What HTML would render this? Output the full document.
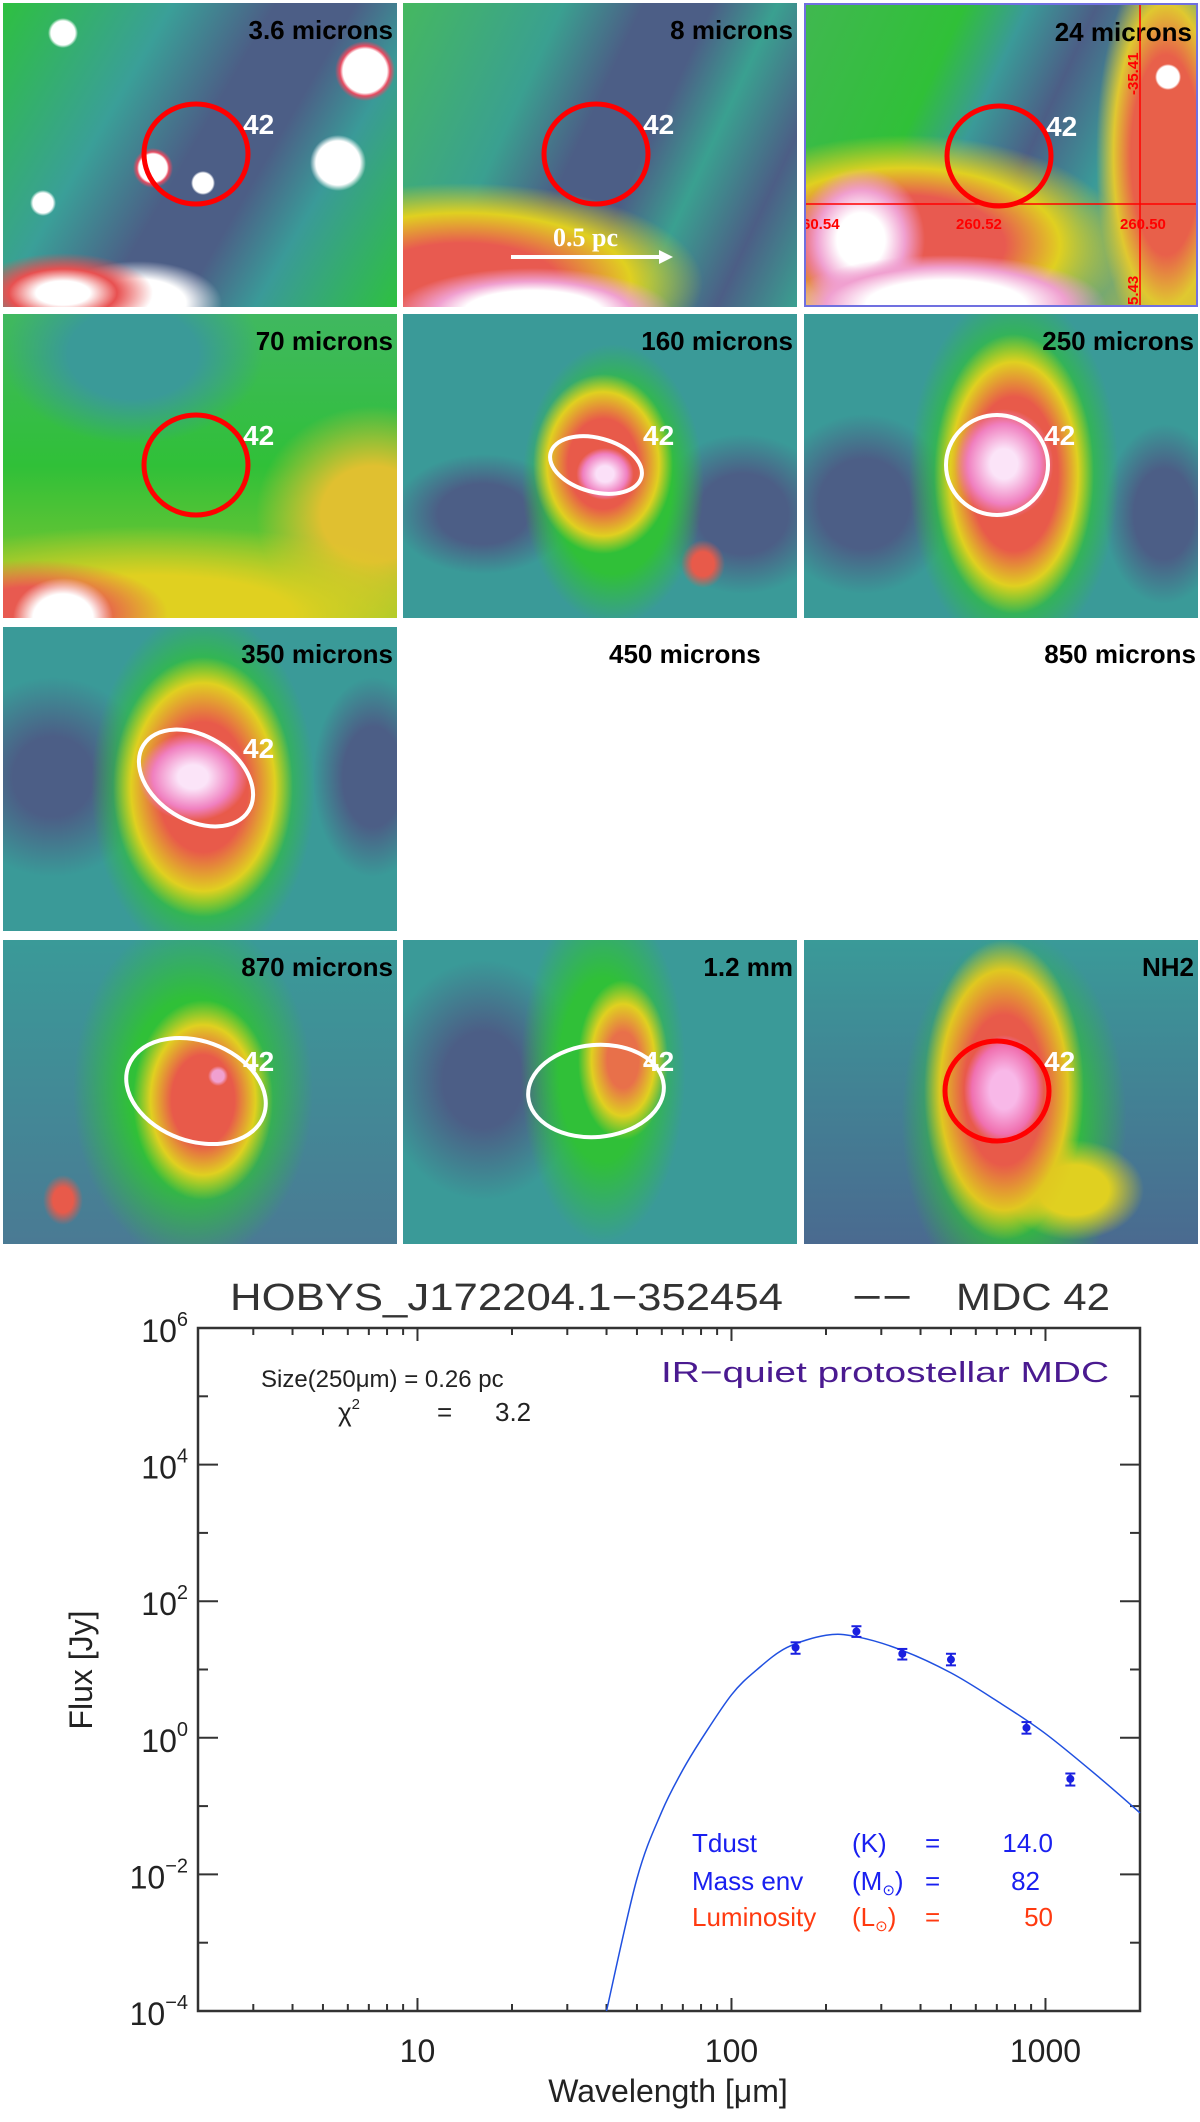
<!DOCTYPE html>
<html><head><meta charset="utf-8"><style>
html,body{margin:0;padding:0;background:#fff;}
body{width:1200px;height:2122px;position:relative;overflow:hidden;font-family:"Liberation Sans",sans-serif;}
.p{position:absolute;width:394px;height:304px;overflow:hidden;}
.lab{position:absolute;right:4px;top:12px;font-weight:bold;font-size:26px;color:#000;white-space:nowrap;}
.num{position:absolute;left:240px;top:106px;font-weight:bold;font-size:28px;color:#fff;}
.ell{position:absolute;left:0;top:0;}
</style></head><body>
<div class="p" style="left:3px;top:3px;background:
radial-gradient(circle at 200px 180px,#fff 0 10px,transparent 12px),
radial-gradient(circle at 150px 165px,#fff 0 14px,#e84a60 16px,transparent 20px),
radial-gradient(circle at 362px 68px,#fff 0 22px,#e84a60 25px,transparent 30px),
radial-gradient(circle at 335px 160px,#fff 0 22px,transparent 28px),
radial-gradient(circle at 60px 30px,#fff 0 12px,transparent 15px),
radial-gradient(circle at 40px 200px,#fff 0 10px,transparent 13px),
radial-gradient(ellipse 90px 40px at 60px 290px,#fff 0 30%,#e85050 60%,transparent 100%),
radial-gradient(ellipse 120px 60px at 135px 300px,#fff 0 40%,transparent 70%),
linear-gradient(120deg,#2ec040 0%,#3a9f98 30%,#4c5e86 48%,#4c5e86 62%,#3a9a98 75%,#2ec040 100%);">
<div class="lab">3.6 microns</div>
<div class="num">42</div>
<svg class="ell" width="394" height="304"><ellipse cx="193" cy="151" rx="52" ry="50" fill="none" stroke="#f00" stroke-width="5"/></svg></div>

<div class="p" style="left:403px;top:3px;background:
radial-gradient(ellipse 140px 45px at 130px 310px,#fff 0 50%,#f0a0d0 70%,transparent 100%),
radial-gradient(ellipse 240px 100px at 60px 280px,#e85a50 0 40%,#e0d020 70%,transparent 100%),
linear-gradient(115deg,#45b860 0%,#3aa090 30%,#4c5e86 45%,#4c5e86 58%,#3aa090 70%,#4c5e86 85%,#3aa090 100%);">
<div class="lab">8 microns</div>
<div class="num">42</div>
<svg class="ell" width="394" height="304"><ellipse cx="193" cy="151" rx="52" ry="50" fill="none" stroke="#f00" stroke-width="5"/>
<line x1="108" y1="254" x2="265" y2="254" stroke="#fff" stroke-width="4"/><polygon points="270,254 256,247 256,261" fill="#fff"/>
<text x="150" y="243" font-family="Liberation Serif" font-weight="bold" font-size="26" fill="#fff">0.5 pc</text></svg></div>

<div class="p" style="left:804px;top:3px;box-sizing:border-box;border:2px solid #7070e0;background:
radial-gradient(circle at 362px 72px,#fff 0 11px,transparent 13px),
radial-gradient(ellipse 160px 50px at 140px 300px,#fff 0 50%,#f0a0d0 75%,transparent 100%),
radial-gradient(ellipse 80px 90px at 55px 235px,#fff 0 30%,#f0a0d0 55%,transparent 80%),
radial-gradient(ellipse 220px 110px at 100px 240px,#e85a50 0 45%,#e0d020 70%,transparent 100%),
radial-gradient(ellipse 70px 200px at 360px 150px,#e8604a 0 50%,#e0c830 75%,transparent 100%),
linear-gradient(115deg,#40b850 0%,#30c038 30%,#3a9a98 42%,#4c5e86 55%,#3a9a98 70%,#d8c030 100%);">
<div class="lab">24 microns</div>
<div class="num">42</div>
<svg class="ell" width="394" height="304"><ellipse cx="193" cy="151" rx="52" ry="50" fill="none" stroke="#f00" stroke-width="5"/>
<line x1="0" y1="199" x2="394" y2="199" stroke="#f00" stroke-width="1.5"/><line x1="334" y1="0" x2="334" y2="304" stroke="#f00" stroke-width="1.5"/>
<g font-size="15" font-weight="bold" fill="#f00" font-family="Liberation Sans"><text x="-4" y="224">60.54</text><text x="150" y="224">260.52</text><text x="314" y="224">260.50</text>
<text transform="translate(332,90) rotate(-90)">-35.41</text><text transform="translate(332,300) rotate(-90)">5.43</text></g></svg></div>

<div class="p" style="left:3px;top:314px;background:
radial-gradient(ellipse 50px 40px at 60px 304px,#fff 0 60%,transparent 100%),
radial-gradient(ellipse 150px 60px at 30px 300px,#e85a50 0 45%,transparent 90%),
radial-gradient(ellipse 400px 110px at 150px 300px,#e0d020 0 35%,transparent 80%),
radial-gradient(ellipse 130px 90px at 130px 40px,#3a9a98 0 50%,transparent 100%),
radial-gradient(ellipse 130px 120px at 370px 200px,#e0c030 0 40%,transparent 90%),
linear-gradient(180deg,#40b860 0%,#30c038 50%,#90c830 100%);">
<div class="lab">70 microns</div>
<div class="num">42</div>
<svg class="ell" width="394" height="304"><ellipse cx="193" cy="151" rx="52" ry="50" fill="none" stroke="#f00" stroke-width="5"/></svg></div>

<div class="p" style="left:403px;top:314px;background:
radial-gradient(ellipse 22px 20px at 202px 160px,#fbe0f8 0 40%,#f080c0 100%,transparent 130%),
radial-gradient(ellipse 70px 90px at 200px 150px,#e85a4a 0 50%,#e0d020 80%,transparent 100%),
radial-gradient(ellipse 22px 24px at 300px 250px,#e85a4a 0 50%,transparent 100%),
radial-gradient(ellipse 130px 200px at 210px 170px,#30c038 0 45%,transparent 70%),
radial-gradient(ellipse 90px 60px at 80px 200px,#4c5e86 0 50%,transparent 100%),
radial-gradient(ellipse 90px 80px at 340px 200px,#4c5e86 0 50%,transparent 100%),
linear-gradient(180deg,#3a9a98,#3a9a98);">
<div class="lab">160 microns</div>
<div class="num">42</div>
<svg class="ell" width="394" height="304"><ellipse cx="193" cy="151" rx="47" ry="27" transform="rotate(15 193 151)" fill="none" stroke="#fff" stroke-width="4"/></svg></div>

<div class="p" style="left:804px;top:314px;background:
radial-gradient(ellipse 45px 50px at 200px 150px,#fbe4f8 0 30%,#f080c0 80%,transparent 110%),
radial-gradient(ellipse 80px 140px at 210px 160px,#e85a4a 0 55%,#e0d020 80%,transparent 100%),
radial-gradient(ellipse 150px 260px at 210px 160px,#30c038 0 45%,transparent 70%),
radial-gradient(ellipse 90px 90px at 60px 190px,#4c5e86 0 50%,transparent 100%),
radial-gradient(ellipse 60px 90px at 360px 200px,#4c5e86 0 50%,transparent 100%),
linear-gradient(180deg,#3a9a98,#3a9a98);">
<div class="lab">250 microns</div>
<div class="num">42</div>
<svg class="ell" width="394" height="304"><ellipse cx="193" cy="151" rx="51" ry="50" fill="none" stroke="#fff" stroke-width="4"/></svg></div>

<div class="p" style="left:3px;top:627px;background:
radial-gradient(ellipse 50px 40px at 190px 150px,#fbe4f8 0 30%,#f080c0 80%,transparent 110%),
radial-gradient(ellipse 90px 130px at 200px 160px,#e85a4a 0 50%,#e0d020 80%,transparent 100%),
radial-gradient(ellipse 160px 250px at 200px 160px,#30c038 0 45%,transparent 70%),
radial-gradient(ellipse 100px 100px at 50px 150px,#4c5e86 0 40%,transparent 100%),
radial-gradient(ellipse 60px 100px at 370px 150px,#4c5e86 0 50%,transparent 100%),
linear-gradient(180deg,#3a9a98,#3a9a98);">
<div class="lab">350 microns</div>
<div class="num">42</div>
<svg class="ell" width="394" height="304"><ellipse cx="193" cy="151" rx="62" ry="42" transform="rotate(32 193 151)" fill="none" stroke="#fff" stroke-width="4"/></svg></div>

<div class="lab" style="right:auto;left:609px;top:639px;">450 microns</div>
<div class="lab" style="right:4px;top:639px;">850 microns</div>

<div class="p" style="left:3px;top:940px;background:
radial-gradient(circle at 215px 136px,#f0a0d0 0 6px,transparent 10px),
radial-gradient(ellipse 70px 100px at 200px 160px,#e85a4a 0 45%,#e0d020 75%,transparent 100%),
radial-gradient(ellipse 20px 25px at 60px 260px,#e85a4a 0 50%,transparent 100%),
radial-gradient(ellipse 160px 230px at 190px 150px,#30c038 0 40%,transparent 75%),
linear-gradient(180deg,#3a9a98,#4a7a94);">
<div class="lab">870 microns</div>
<div class="num">42</div>
<svg class="ell" width="394" height="304"><ellipse cx="193" cy="151" rx="72" ry="50" transform="rotate(20 193 151)" fill="none" stroke="#fff" stroke-width="4"/></svg></div>

<div class="p" style="left:403px;top:940px;background:
radial-gradient(ellipse 45px 80px at 220px 120px,#e8704a 0 35%,#e0d020 70%,transparent 100%),
radial-gradient(ellipse 110px 230px at 200px 130px,#30c038 0 40%,transparent 75%),
radial-gradient(ellipse 100px 120px at 80px 140px,#4c5e86 0 40%,transparent 100%),
linear-gradient(180deg,#3a9a98,#3a9a98);">
<div class="lab">1.2 mm</div>
<div class="num">42</div>
<svg class="ell" width="394" height="304"><ellipse cx="193" cy="151" rx="68" ry="46" transform="rotate(-5 193 151)" fill="none" stroke="#fff" stroke-width="4"/></svg></div>

<div class="p" style="left:804px;top:940px;background:
radial-gradient(ellipse 40px 55px at 200px 150px,#f8b8e8 0 35%,#f070b0 80%,transparent 100%),
radial-gradient(ellipse 80px 150px at 200px 150px,#e85a4a 0 50%,#e0c820 80%,transparent 100%),
radial-gradient(ellipse 70px 50px at 270px 250px,#e0d020 0 50%,transparent 100%),
radial-gradient(ellipse 150px 250px at 210px 180px,#30c038 0 40%,transparent 75%),
linear-gradient(180deg,#3a9a98,#4a6a90);">
<div class="lab">NH2</div>
<div class="num">42</div>
<svg class="ell" width="394" height="304"><ellipse cx="193" cy="151" rx="52" ry="50" fill="none" stroke="#f00" stroke-width="5"/></svg></div>

<svg id="sed" width="1200" height="2122" style="position:absolute;left:0;top:0;pointer-events:none" font-family="Liberation Sans, sans-serif"></svg>
<script>
const pointWavelengths=[160,250,350,500,870,1200];
const pointFluxes=[21,36,17,14,1.4,0.25];
const pointErrLo=[17,30,14,11.5,1.15,0.2];
const pointErrHi=[25,43,20,17,1.7,0.3];
const curveWavelengths=[40,50,60,70,80,100,120,150,200,250,350,500,700,1000,1500,2000];
const curveLogFlux=[-4,-2.06,-1.08,-0.47,-0.03,0.63,0.99,1.32,1.5,1.48,1.28,0.95,0.54,0.06,-0.6,-1.1];
const yTickExps=[-4,-2,0,2,4,6];
const xTickLabels=[10,100,1000];

const L=198,R=1140,T=1328,B=2011;
const lx0=Math.log10(2),lx1=Math.log10(2000);
const X=v=>L+(Math.log10(v)-lx0)/(lx1-lx0)*(R-L);
const YL=e=>T+(6-e)/10*(B-T);
const Y=v=>YL(Math.log10(v));
const svg=document.getElementById('sed');
const NS='http://www.w3.org/2000/svg';
function mk(tag,attrs,parent){const e=document.createElementNS(NS,tag);for(const k in attrs)e.setAttribute(k,attrs[k]);(parent||svg).appendChild(e);return e;}

const frame=mk('rect',{x:L,y:T,width:R-L,height:B-T,fill:'none',stroke:'#333','stroke-width':2.5});



for(let e=-4;e<=6;e++){
  const y=YL(e),len=(e%2===0)?20:10;
  mk('line',{x1:L,y1:y,x2:L+len,y2:y,stroke:'#333','stroke-width':2});
  mk('line',{x1:R,y1:y,x2:R-len,y2:y,stroke:'#333','stroke-width':2});
}
yTickExps.forEach(e=>{
  const t=mk('text',{x:188,y:YL(e)+14,'text-anchor':'end','font-size':32,fill:'#222'});
  
  
  t.textContent='10';
  const s=mk('tspan',{dy:-16,'font-size':20},t);s.textContent=(e<0?'\u2212'+(-e):String(e));
});
for(let d=0;d<4;d++){for(let m=1;m<10;m++){
  const v=m*Math.pow(10,d);if(v<2||v>2000)continue;
  const x=X(v),len=(m===1)?13:7;
  mk('line',{x1:x,y1:B,x2:x,y2:B-len,stroke:'#333','stroke-width':2});
  mk('line',{x1:x,y1:T,x2:x,y2:T+len,stroke:'#333','stroke-width':2});
}}
xTickLabels.forEach(v=>{
  const t=mk('text',{x:X(v),y:2062,'text-anchor':'middle','font-size':32,fill:'#222'});
  
  
  t.textContent=String(v);
});
// smooth curve (Catmull-Rom through sampled points)
const pts=curveWavelengths.map((w,i)=>[X(w),YL(curveLogFlux[i])]);
let d='M'+pts[0][0].toFixed(1)+' '+pts[0][1].toFixed(1);
for(let i=0;i<pts.length-1;i++){
  const p0=pts[Math.max(0,i-1)],p1=pts[i],p2=pts[i+1],p3=pts[Math.min(pts.length-1,i+2)];
  const c1=[p1[0]+(p2[0]-p0[0])/6,p1[1]+(p2[1]-p0[1])/6];
  const c2=[p2[0]-(p3[0]-p1[0])/6,p2[1]-(p3[1]-p1[1])/6];
  d+=' C'+c1[0].toFixed(1)+' '+c1[1].toFixed(1)+' '+c2[0].toFixed(1)+' '+c2[1].toFixed(1)+' '+p2[0].toFixed(1)+' '+p2[1].toFixed(1);
}
const cv=mk('path',{d:d,fill:'none',stroke:'#2050e0','stroke-width':1.5});


pointWavelengths.forEach((w,i)=>{
  const g=mk('g',{stroke:'#1a20e0','stroke-width':2,fill:'#1a20e0'});
  
  
  const x=X(w),y1=Y(pointErrLo[i]),y2=Y(pointErrHi[i]);
  mk('line',{x1:x,y1:y1,x2:x,y2:y2},g);
  mk('line',{x1:x-5,y1:y1,x2:x+5,y2:y1},g);
  mk('line',{x1:x-5,y1:y2,x2:x+5,y2:y2},g);
  mk('circle',{cx:x,cy:Y(pointFluxes[i]),r:3},g);
});
</script>
<svg width="1200" height="2122" style="position:absolute;left:0;top:0;pointer-events:none" font-family="Liberation Sans, sans-serif">
<g font-size="38" fill="#333">
<text x="230" y="1310" textLength="553" lengthAdjust="spacingAndGlyphs">HOBYS_J172204.1−352454</text>
<text x="852" y="1310" textLength="60" lengthAdjust="spacingAndGlyphs">−−</text>
<text x="956" y="1310" textLength="154" lengthAdjust="spacingAndGlyphs">MDC 42</text>
</g>
<text x="261" y="1387" font-size="24" fill="#222">Size(250μm) = 0.26 pc</text>
<text x="338" y="1421" font-size="26" fill="#222">χ<tspan dy="-12" font-size="15">2</tspan><tspan x="437" dy="12">=</tspan><tspan x="495">3.2</tspan></text>
<text x="661" y="1382" font-size="29" fill="#4a1a90" textLength="448" lengthAdjust="spacingAndGlyphs">IR−quiet protostellar MDC</text>
<g font-size="26">
<text x="692" y="1852" fill="#1a20f0">Tdust</text><text x="852" y="1852" fill="#1a20f0">(K)</text><text x="925" y="1852" fill="#1a20f0">=</text><text x="1053" y="1852" fill="#1a20f0" text-anchor="end">14.0</text>
<text x="692" y="1890" fill="#1a20f0">Mass env</text><text x="852" y="1890" fill="#1a20f0">(M<tspan font-size="15" dy="5">⊙</tspan><tspan dy="-5">)</tspan></text><text x="925" y="1890" fill="#1a20f0">=</text><text x="1040" y="1890" fill="#1a20f0" text-anchor="end">82</text>
<text x="692" y="1926" fill="#ff3a10">Luminosity</text><text x="852" y="1926" fill="#ff3a10">(L<tspan font-size="15" dy="5">⊙</tspan><tspan dy="-5">)</tspan></text><text x="925" y="1926" fill="#ff3a10">=</text><text x="1053" y="1926" fill="#ff3a10" text-anchor="end">50</text>
</g>
<text x="668" y="2102" font-size="32" fill="#222" text-anchor="middle">Wavelength [μm]</text>
<text transform="translate(92,1670) rotate(-90)" font-size="32" fill="#222" text-anchor="middle">Flux [Jy]</text>
</svg>
</body></html>
